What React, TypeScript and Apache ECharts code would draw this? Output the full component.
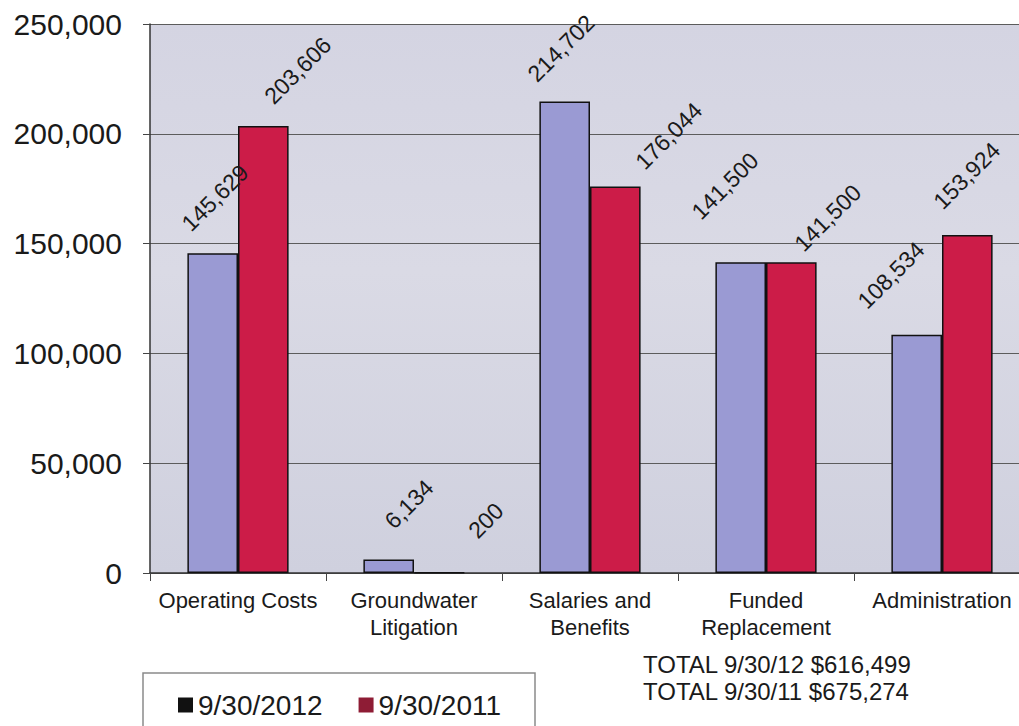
import React, { useEffect, useRef } from "react";
import * as echarts from "echarts";

const categories = [
  "Operating Costs",
  "Groundwater\nLitigation",
  "Salaries and\nBenefits",
  "Funded\nReplacement",
  "Administration",
];
const values2012 = [145629, 6134, 214702, 141500, 108534];
const values2011 = [203606, 200, 176044, 141500, 153924];
const seriesNames = ["9/30/2012", "9/30/2011"];
const totalLines = ["TOTAL 9/30/12 $616,499", "TOTAL 9/30/11 $675,274"];

// screen-space nudges of each rotated value label (style, not data)
const labelShift2012: [number, number][] = [
  [-27, -12],
  [0, -21],
  [-33, -10],
  [-45, -33],
  [-55, -16],
];
const labelShift2011: [number, number][] = [
  [5, -12],
  [33, -24],
  [24, -7],
  [7, -1],
  [-30, -16],
];

const FONT = "'Liberation Sans', Arial, sans-serif";
const fmt = (v: number) => v.toLocaleString("en-US");
// label offset is applied in the label's rotated (45°) frame
const toLocal = ([dx, dy]: [number, number]) => [
  (dx - dy) / Math.SQRT2,
  (dx + dy) / Math.SQRT2,
];

export default function App() {
  const ref = useRef<HTMLDivElement>(null);
  useEffect(() => {
    if (!ref.current) return;
    const chart = echarts.init(ref.current, null, { renderer: "svg" });
    const labelBase = {
      show: true,
      position: "top" as const,
      rotate: 45,
      align: "left" as const,
      verticalAlign: "middle" as const,
      fontSize: 23,
      fontFamily: FONT,
      color: "#1a1a1a",
      distance: 14,
      formatter: (p: any) => fmt(p.value),
    };
    const mk = (vals: number[], shifts: [number, number][]) =>
      vals.map((v, i) => ({ value: v, label: { offset: toLocal(shifts[i]) } }));
    chart.setOption({
      animation: false,
      backgroundColor: "#ffffff",
      textStyle: { fontFamily: FONT },
      grid: {
        left: 150,
        top: 24,
        height: 549,
        width: 880,
        show: true,
        backgroundColor: new echarts.graphic.LinearGradient(0, 0, 0, 1, [
          { offset: 0, color: "#d4d4e2" },
          { offset: 0.45, color: "#dadae5" },
          { offset: 1, color: "#cfd0de" },
        ]),
        borderWidth: 0,
      },
      legend: {
        left: 178,
        top: 691,
        padding: 0,
        itemWidth: 15,
        itemHeight: 15,
        itemGap: 36,
        icon: "rect",
        textStyle: { fontSize: 28, fontFamily: FONT, color: "#1a1a1a" },
        data: [
          { name: seriesNames[0], itemStyle: { color: "#111111", borderWidth: 0 } },
          { name: seriesNames[1], itemStyle: { color: "#8e1c35", borderWidth: 0 } },
        ],
      },
      xAxis: {
        type: "category",
        data: categories,
        axisLine: { show: true, lineStyle: { color: "#333", width: 1.5 } },
        axisTick: { show: true, length: 8, lineStyle: { color: "#444" } },
        axisLabel: {
          fontSize: 22,
          fontFamily: FONT,
          color: "#1a1a1a",
          margin: 14,
          lineHeight: 27,
          interval: 0,
        },
      },
      yAxis: {
        type: "value",
        min: 0,
        max: 250000,
        interval: 50000,
        axisLine: { show: true, lineStyle: { color: "#333", width: 1.5 } },
        axisTick: { show: true, length: 7, lineStyle: { color: "#444" } },
        splitLine: { show: true, lineStyle: { color: "#5c5c5c", width: 1 } },
        axisLabel: {
          fontSize: 30,
          fontFamily: FONT,
          color: "#1a1a1a",
          margin: 28,
          formatter: (v: number) => fmt(v),
        },
      },
      series: [
        {
          name: seriesNames[0],
          type: "bar",
          data: mk(values2012, labelShift2012),
          barGap: "0%",
          barCategoryGap: "42.5%",
          itemStyle: { color: "#9a9ad3", borderColor: "#111", borderWidth: 1.5 },
          label: labelBase,
        },
        {
          name: seriesNames[1],
          type: "bar",
          data: mk(values2011, labelShift2011),
          barGap: "0%",
          barCategoryGap: "42.5%",
          itemStyle: { color: "#cc1c48", borderColor: "#111", borderWidth: 1.5 },
          label: labelBase,
        },
      ],
      graphic: [
        {
          type: "rect",
          z: 0,
          shape: { x: 143, y: 673, width: 392, height: 70 },
          style: { fill: "#ffffff", stroke: "#8a8a8a", lineWidth: 1.5 },
        },
        {
          type: "text",
          left: 643,
          top: 651,
          style: {
            text: totalLines.join("\n"),
            fontSize: 24,
            lineHeight: 27,
            fontFamily: FONT,
            fill: "#1a1a1a",
          },
        },
      ],
    });
    return () => chart.dispose();
  }, []);
  return (
    <div
      style={{
        position: "absolute",
        left: 0,
        top: 0,
        width: 1019,
        height: 726,
        overflow: "hidden",
      }}
    >
      <div ref={ref} style={{ width: 1040, height: 726 }} />
    </div>
  );
}
